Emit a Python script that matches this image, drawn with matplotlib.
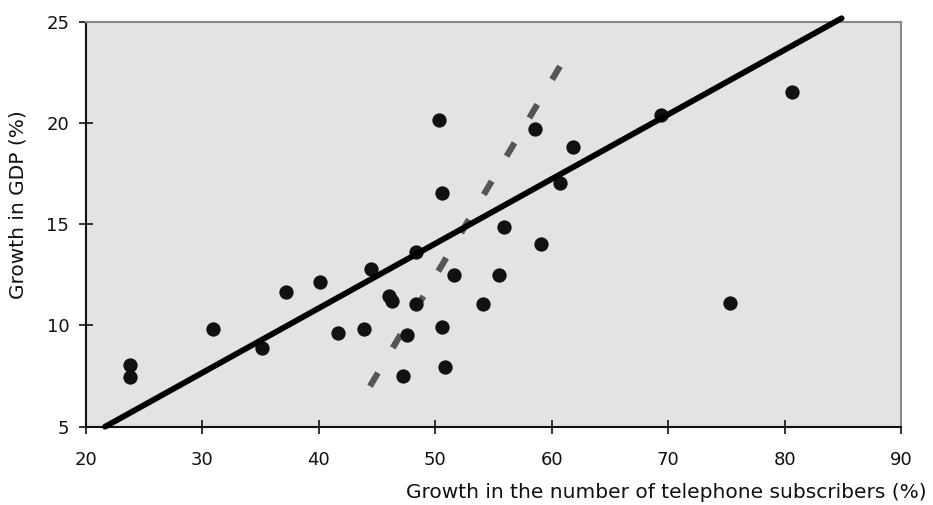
import numpy as np
import matplotlib.pyplot as plt

# Wachstum Telefonanschluesse (%) und BIP-Wachstum (%)
telephone_growth = [23.8, 23.8, 30.9, 35.1, 37.2, 40.1, 41.6, 43.9, 44.5, 46.0,
                    46.3, 47.2, 47.6, 48.3, 48.3, 50.3, 50.6, 50.6, 50.8, 51.6,
                    54.1, 55.5, 55.9, 58.6, 59.1, 60.7, 61.8, 69.4, 75.3, 80.6]
gdp_growth = [8.05, 7.47, 9.81, 8.90, 11.67, 12.16, 9.64, 9.81, 12.77, 11.47,
              11.23, 7.52, 9.53, 13.64, 11.06, 20.15, 9.91, 16.56, 7.93, 12.48,
              11.06, 12.48, 14.85, 19.70, 14.00, 17.03, 18.83, 20.39, 11.09, 21.54]

# Trendlinie (durchgezogen) und gestrichelte Linie
fit_x = [21.63, 84.9]
fit_y = [5.0, 25.17]
dash_x = [44.39, 60.71]
dash_y = [7.0, 22.8]

x_ticks = [20, 30, 40, 50, 60, 70, 80, 90]
y_ticks = [5, 10, 15, 20, 25]

plt.rcParams['font.family'] = ['DejaVu Sans']
plt.rcParams['lines.scale_dashes'] = False

fig = plt.figure(figsize=(9.33, 5.05), dpi=100)
ax = fig.add_axes([0.0922, 0.155, 0.8735, 0.802])
ax.set_facecolor('#e3e3e3')

ax.plot(dash_x, dash_y, color='#555555', linewidth=4.5,
        dashes=(11.2, 20.9), solid_capstyle='butt', zorder=2)
ax.plot(telephone_growth, gdp_growth, 'o', color='#111111',
        markersize=10.3, markeredgewidth=0, zorder=3)
ax.plot(fit_x, fit_y, color='black', linewidth=4.2,
        solid_capstyle='round', zorder=4, clip_on=False)

ax.set_xlim(20, 90)
ax.set_ylim(5, 25)
ax.set_xticks(x_ticks)
ax.set_yticks(y_ticks)

for side in ['left', 'bottom']:
    ax.spines[side].set_color('#111111')
    ax.spines[side].set_linewidth(1.5)
for side in ['top', 'right']:
    ax.spines[side].set_color('#888888')
    ax.spines[side].set_linewidth(1.5)

ax.tick_params(axis='x', direction='inout', length=9.6, width=1.2,
               pad=13, labelsize=13, colors='#111111')
ax.tick_params(axis='y', direction='inout', length=10, width=1.2,
               pad=7, labelsize=13, colors='#111111')

fig.text(18 / 933, 1 - 205 / 505, 'Growth in GDP (%)', rotation=90,
         ha='center', va='center', fontsize=14.5, color='#111111')
fig.text(927 / 933, 1 - 492 / 505,
         'Growth in the number of telephone subscribers (%)',
         ha='right', va='center', fontsize=14.5, color='#111111')

fig.savefig('out.png', dpi=100)
